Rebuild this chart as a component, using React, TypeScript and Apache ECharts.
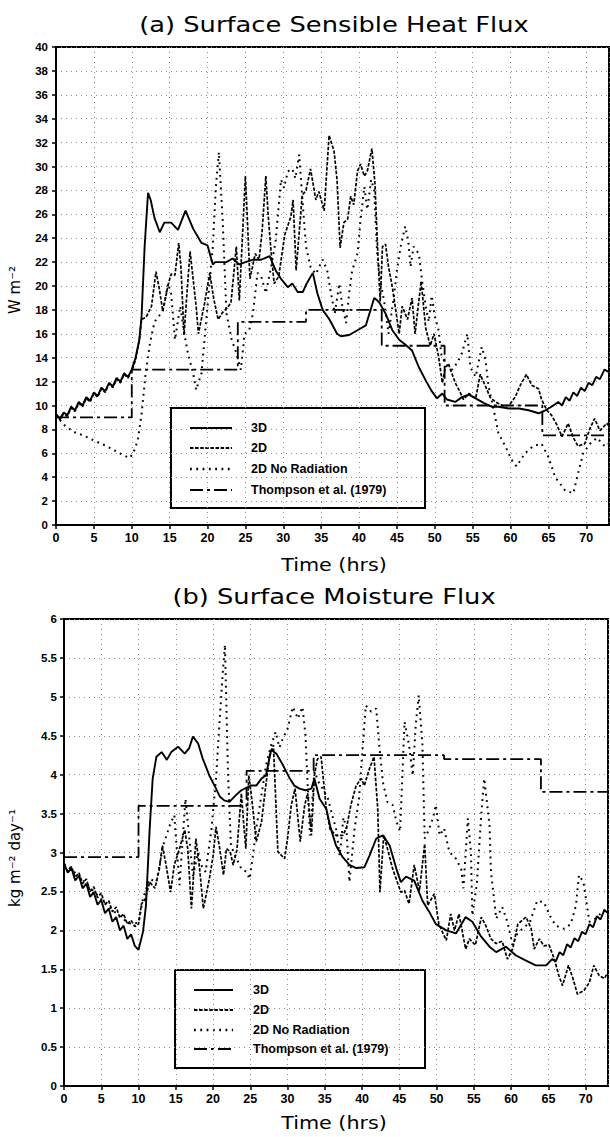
import React, { useEffect, useRef } from "react";
import * as echarts from "echarts";

// ---------- (a) Surface Sensible Heat Flux (W m^-2) ----------
const heat3D: number[][] = [
  [0, 9.3], [0.5, 8.9], [1, 9.4], [1.5, 9.2], [2, 9.9], [2.5, 9.6], [3, 10.3], [3.5, 10.0], [4, 10.7], [4.5, 10.4],
  [5, 11.1], [5.5, 10.8], [6, 11.5], [6.5, 11.2], [7, 11.9], [7.5, 11.6], [8, 12.3], [8.5, 12.0], [9, 12.7], [9.5, 12.4],
  [10, 13.0], [10.5, 14.0], [11, 15.5], [11.3, 17.5], [11.7, 23.3], [12.15, 27.8], [12.5, 27.2], [13, 25.7], [13.7, 24.5],
  [14.3, 25.3], [15.2, 25.3], [16.1, 24.7], [17.1, 26.3], [18.1, 24.8], [19.2, 23.6], [20, 23.4], [20.7, 21.8], [21, 22.0],
  [22.5, 22.0], [23.3, 22.3], [24.2, 21.8], [25, 22.0], [26, 22.2], [27.1, 22.2], [28.2, 22.5], [29, 21.3], [29.7, 20.6],
  [30.6, 19.9], [31.2, 20.2], [31.9, 19.5], [32.6, 19.5], [33, 20.1], [33.9, 21.1], [34.5, 19.4], [35.2, 18.0], [36.1, 17.2],
  [37.1, 16.0], [37.6, 15.8], [38.7, 15.9], [39.8, 16.3], [40.9, 16.7], [42.0, 19.0], [42.4, 18.8], [42.7, 18.6], [43.5, 17.7],
  [44.4, 16.3], [45.3, 15.5], [46.1, 15.1], [47.0, 14.6], [47.9, 13.2], [48.8, 12.1], [49.6, 11.2], [50.3, 10.6], [51.0, 11.0],
  [51.6, 10.5], [52.7, 10.3], [53.6, 10.7], [54.5, 10.9], [55.4, 10.6], [56.5, 10.2], [57.5, 9.9], [58.4, 9.9], [59.8, 9.75],
  [61.1, 9.75], [62.4, 9.6], [63.7, 9.35], [64.6, 9.6], [65.4, 9.9], [66.3, 10.3], [66.8, 10.0], [67.3, 10.7], [67.8, 10.4],
  [68.3, 11.1], [68.8, 10.8], [69.3, 11.5], [69.8, 11.2], [70.3, 11.9], [70.8, 11.7], [71.3, 12.4], [71.8, 12.2], [72.4, 13.0],
  [73, 12.8],
];

const heat2D: number[][] = [
  [0, 9.2], [0.5, 8.8], [1, 9.3], [1.5, 9.1], [2, 9.8], [2.5, 9.5], [3, 10.2], [3.5, 9.9], [4, 10.6], [4.5, 10.3],
  [5, 11.0], [5.5, 10.7], [6, 11.4], [6.5, 11.1], [7, 11.8], [7.5, 11.5], [8, 12.2], [8.5, 11.9], [9, 12.6], [9.5, 12.3],
  [10, 12.9], [10.5, 13.8], [11, 15.5], [11.3, 17.2], [11.9, 17.4], [12.6, 18.3], [13.2, 21.2], [13.6, 19.9], [14.1, 17.9],
  [14.8, 20.1], [15.2, 21.0], [15.7, 20.9], [16.2, 23.6], [16.5, 21.5], [16.9, 15.9], [17.3, 19.5], [17.7, 22.9], [18.5, 18.3],
  [18.8, 16.0], [19.6, 18.5], [20.3, 21.1], [20.8, 19.0], [21.4, 17.2], [22.0, 17.8], [22.5, 18.1], [23.1, 18.6], [23.8, 23.3],
  [24.2, 18.8], [24.6, 24.0], [25.0, 29.2], [25.3, 25.0], [25.6, 20.6], [26.3, 22.7], [26.8, 22.2], [27.2, 24.5], [27.7, 29.2],
  [28.0, 26.0], [28.4, 22.8], [28.8, 20.2], [29.4, 20.8], [30.2, 24.3], [31.0, 25.8], [31.3, 27.2], [31.7, 21.3], [32.5, 27.6],
  [33.0, 28.0], [33.6, 29.8], [34.3, 27.2], [34.7, 27.9], [35.4, 26.3], [36.05, 32.6], [36.7, 31.3], [37.1, 28.9], [37.5, 23.2],
  [38.0, 25.3], [38.5, 25.6], [38.9, 27.5], [39.3, 26.8], [39.8, 29.6], [40.2, 30.2], [40.7, 29.2], [41.1, 29.6], [41.7, 31.5],
  [42.1, 28.6], [42.5, 22.5], [42.8, 18.7], [43.1, 23.3], [43.5, 23.5], [43.9, 21.6], [44.4, 19.9], [45.3, 16.0], [45.7, 18.3],
  [46.4, 17.2], [47.0, 19.0], [47.4, 16.0], [48.2, 20.4], [48.8, 16.5], [49.4, 15.0], [49.9, 16.0], [50.5, 14.1], [51.0, 11.9],
  [51.4, 13.2], [51.8, 13.5], [52.7, 11.9], [53.2, 11.3], [53.8, 10.5], [54.5, 11.0], [55.4, 10.6], [56.0, 12.6], [56.7, 11.6],
  [57.3, 10.7], [58.0, 10.3], [58.9, 10.0], [59.8, 10.0], [60.6, 10.7], [61.3, 11.7], [62.1, 12.6], [62.8, 11.7], [63.7, 11.4],
  [64.1, 10.5], [64.8, 9.6], [65.4, 9.2], [66.1, 8.4], [66.8, 7.4], [67.6, 8.5], [68.3, 7.3], [68.9, 6.6], [69.8, 6.8],
  [70.5, 8.1], [71.1, 8.9], [71.8, 7.9], [72.7, 8.5], [73, 8.3],
];

const heatNoRad: number[][] = [
  [0, 9.2], [1.0, 8.4], [2.3, 7.8], [3.6, 7.5], [4.9, 7.1], [6.7, 6.6], [8.4, 6.0], [9.7, 5.6], [10.2, 6.0], [10.8, 7.1],
  [11.3, 9.3], [11.8, 12.5], [12.4, 15.2], [13.0, 17.0], [13.5, 17.4], [14.1, 17.9], [14.8, 20.2], [15.2, 19.4], [15.7, 15.5],
  [16.4, 18.3], [17.0, 15.8], [17.4, 14.4], [18.1, 12.7], [18.5, 11.3], [19.2, 12.7], [20.0, 18.3], [20.7, 23.3], [21.1, 28.3],
  [21.5, 31.2], [22.0, 25.5], [22.5, 17.7], [23.2, 15.5], [23.8, 14.4], [24.4, 13.0], [24.9, 16.0], [25.5, 16.3], [26.0, 17.7],
  [26.6, 21.1], [27.1, 20.8], [27.7, 19.4], [28.4, 21.6], [29.0, 23.8], [29.7, 28.9], [30.1, 28.2], [30.6, 29.6], [31.2, 29.8],
  [31.6, 29.0], [32.1, 31.0], [32.5, 27.5], [33.0, 23.3], [33.6, 21.6], [34.3, 21.0], [35.2, 22.2], [35.8, 21.3], [36.3, 19.4],
  [36.8, 17.7], [37.4, 20.2], [37.8, 18.3], [38.3, 16.9], [38.7, 19.4], [39.1, 21.3], [39.8, 22.7], [40.2, 25.5], [40.7, 28.3],
  [41.1, 26.4], [41.6, 28.9], [42.0, 28.0], [42.4, 22.7], [42.8, 20.5], [43.3, 18.8], [43.9, 16.0], [44.6, 19.1], [45.0, 21.3],
  [45.5, 23.3], [46.1, 25.0], [46.5, 23.8], [46.8, 21.6], [47.2, 23.3], [47.9, 22.7], [48.3, 20.6], [48.8, 18.3], [49.2, 17.0],
  [49.6, 19.2], [50.0, 17.5], [50.5, 16.3], [50.9, 14.1], [51.6, 13.4], [52.3, 13.0], [53.0, 13.6], [53.6, 14.4], [54.3, 16.0],
  [54.7, 13.2], [55.4, 12.4], [56.2, 14.9], [56.7, 13.8], [57.1, 11.6], [57.8, 9.6], [58.4, 7.7], [59.3, 6.6], [60.2, 5.4],
  [60.8, 4.9], [61.9, 6.0], [63.0, 6.6], [64.1, 6.8], [65.0, 5.7], [65.9, 4.0], [67.2, 2.9], [68.3, 2.65], [68.9, 4.3],
  [69.6, 6.0], [70.5, 6.8], [71.4, 7.3], [72.5, 6.55], [73, 6.8],
];

const heatThompson: number[][] = [
  [0, 9], [10, 9], [10, 13], [24, 13], [24, 17], [33, 17], [33, 18], [43, 18], [43, 15], [51.3, 15],
  [51.3, 10], [64.2, 10], [64.2, 7.5], [73, 7.5],
];

// ---------- (b) Surface Moisture Flux (kg m^-2 day^-1) ----------
const moist3D: number[][] = [
  [0, 2.86], [0.5, 2.74], [1, 2.80], [1.5, 2.64], [2, 2.70], [2.5, 2.54], [3, 2.60], [3.5, 2.43], [4, 2.49], [4.5, 2.33],
  [5, 2.39], [5.5, 2.22], [6, 2.28], [6.5, 2.11], [7, 2.17], [7.5, 2.00], [8, 2.06], [8.5, 1.89], [9, 1.95], [9.5, 1.80],
  [10, 1.75], [10.6, 1.98], [11.0, 2.32], [11.5, 3.31], [11.9, 3.95], [12.4, 4.23], [13.1, 4.29], [13.8, 4.19], [14.4, 4.29],
  [15.3, 4.36], [16.2, 4.27], [16.8, 4.34], [17.3, 4.49], [18.0, 4.40], [18.6, 4.21], [19.5, 3.99], [20.2, 3.86], [20.9, 3.72],
  [21.5, 3.67], [22.2, 3.65], [23.1, 3.74], [23.8, 3.80], [25.1, 3.86], [25.8, 3.86], [26.5, 3.95], [27.1, 3.99], [27.8, 4.32],
  [28.5, 4.27], [29.4, 4.12], [30.3, 3.95], [30.9, 3.86], [31.6, 3.82], [32.4, 3.80], [33.2, 3.82], [33.6, 3.95], [34.3, 3.69],
  [35.2, 3.56], [35.8, 3.31], [36.5, 3.09], [37.4, 2.94], [38.3, 2.84], [39.2, 2.80], [40.3, 2.81], [41.0, 2.96], [41.9, 3.18],
  [42.8, 3.22], [43.7, 3.09], [44.6, 2.79], [45.2, 2.62], [45.9, 2.69], [47.0, 2.64], [48.1, 2.38], [49.0, 2.24], [49.9, 2.08],
  [51.3, 2.0], [52.6, 1.96], [53.9, 2.17], [54.8, 2.11], [55.9, 1.93], [57.1, 1.79], [58.0, 1.72], [59.3, 1.79], [60.6, 1.68],
  [62.0, 1.61], [63.3, 1.55], [64.7, 1.55], [65.5, 1.63], [66.0, 1.60], [66.5, 1.72], [67.0, 1.68], [67.5, 1.82], [68.0, 1.78],
  [68.5, 1.90], [69.0, 1.86], [69.5, 1.98], [70.0, 1.95], [70.5, 2.08], [71.0, 2.04], [71.5, 2.18], [72.0, 2.14], [72.5, 2.26],
  [73, 2.22],
];

const moist2D: number[][] = [
  [0, 2.84], [0.5, 2.76], [1, 2.82], [1.5, 2.68], [2, 2.74], [2.5, 2.60], [3, 2.66], [3.5, 2.50], [4, 2.56], [4.5, 2.42],
  [5, 2.48], [5.5, 2.33], [6, 2.38], [6.5, 2.24], [7, 2.30], [7.5, 2.16], [8, 2.21], [8.5, 2.08], [9, 2.13], [9.5, 2.05],
  [10, 2.08], [10.4, 2.34], [10.9, 2.40], [11.5, 2.62], [12.2, 2.54], [12.8, 2.79], [13.2, 3.09], [13.7, 2.84], [14.3, 2.49],
  [14.8, 2.84], [15.5, 3.05], [16.2, 3.29], [16.6, 3.05], [17.1, 2.28], [17.7, 3.18], [18.2, 2.79], [18.7, 2.28], [19.5, 2.66],
  [20.0, 2.95], [20.4, 3.33], [20.9, 3.05], [21.4, 2.71], [21.8, 3.05], [22.3, 3.01], [22.7, 2.84], [23.2, 3.03], [23.8, 3.76],
  [24.1, 3.39], [24.4, 3.05], [24.8, 3.99], [25.2, 3.69], [25.8, 3.14], [26.5, 3.39], [27.0, 3.80], [27.6, 4.25], [28.1, 4.38],
  [28.4, 3.70], [28.7, 3.01], [29.6, 2.92], [30.0, 3.18], [30.5, 3.61], [31.0, 3.82], [31.7, 3.14], [32.3, 3.61], [32.7, 3.76],
  [33.2, 3.22], [33.6, 3.99], [34.0, 4.20], [34.5, 4.23], [35.2, 3.56], [35.7, 3.30], [36.5, 3.22], [37.4, 3.22], [37.9, 3.31],
  [38.5, 3.61], [39.2, 3.86], [39.9, 3.95], [40.3, 3.86], [41.0, 4.08], [41.6, 4.23], [42.1, 3.56], [42.4, 2.49], [42.9, 3.22],
  [43.4, 3.05], [44.1, 2.79], [45.2, 2.49], [45.7, 2.51], [46.3, 2.34], [47.0, 2.84], [47.7, 2.51], [48.4, 3.11], [48.8, 2.32],
  [49.7, 2.47], [50.3, 2.08], [51.3, 1.87], [51.9, 2.21], [52.4, 2.0], [53.0, 2.21], [53.9, 1.76], [54.4, 1.89], [55.2, 1.81],
  [56.0, 2.17], [56.6, 2.06], [57.3, 1.89], [58.0, 1.83], [58.8, 1.86], [59.5, 1.63], [60.2, 1.76], [60.9, 2.08], [62.0, 2.17],
  [62.7, 2.02], [63.1, 1.76], [63.8, 1.89], [64.4, 1.80], [65.1, 1.81], [65.8, 1.63], [66.4, 1.42], [66.9, 1.29], [67.7, 1.55],
  [68.3, 1.38], [68.9, 1.18], [69.8, 1.23], [70.5, 1.33], [71.1, 1.55], [71.8, 1.42], [72.5, 1.38], [73, 1.46],
];

const moistNoRad: number[][] = [
  [0, 2.85], [1, 2.78], [2, 2.70], [3, 2.60], [4, 2.50], [5, 2.40], [6, 2.30], [7, 2.22], [8, 2.14], [9, 2.08], [10, 2.10],
  [10.6, 2.41], [11.5, 2.66], [12.4, 2.62], [13.3, 3.09], [14.2, 3.35], [14.8, 3.48], [15.5, 2.58], [16.3, 3.69], [16.8, 3.20],
  [17.3, 2.70], [18.0, 3.00], [18.4, 2.84], [19.0, 2.75], [19.8, 3.31], [20.4, 3.95], [20.9, 4.72], [21.3, 5.30], [21.6, 5.67],
  [22.0, 4.04], [22.4, 3.09], [23.0, 2.95], [23.8, 2.79], [24.5, 2.75], [24.9, 2.66], [25.3, 2.92], [25.8, 3.31], [26.5, 3.74],
  [27.1, 4.12], [27.8, 4.38], [28.4, 4.55], [28.9, 4.35], [29.4, 4.47], [30.0, 4.59], [30.7, 4.87], [31.4, 4.72], [32.0, 4.87],
  [32.4, 4.51], [33.0, 3.22], [33.6, 4.04], [34.2, 3.90], [34.7, 3.82], [35.4, 3.70], [36.1, 3.44], [36.5, 3.31], [37.0, 2.96],
  [37.5, 3.45], [37.9, 3.31], [38.3, 2.62], [39.0, 3.31], [39.6, 3.70], [40.1, 4.38], [40.5, 4.89], [41.2, 4.81], [41.9, 4.85],
  [42.3, 4.38], [42.8, 3.90], [43.4, 3.65], [44.1, 3.61], [44.6, 3.40], [45.1, 3.27], [45.7, 4.68], [46.3, 4.38], [46.8, 3.99],
  [47.2, 4.64], [47.6, 5.02], [48.1, 4.38], [48.4, 3.18], [49.0, 3.30], [49.5, 3.44], [49.9, 3.61], [50.4, 3.22], [51.0, 3.31],
  [51.7, 3.01], [52.6, 2.92], [53.3, 2.79], [53.6, 2.54], [54.2, 3.44], [54.6, 3.01], [54.8, 2.19], [55.4, 2.60], [56.0, 3.50],
  [56.4, 3.95], [57.1, 3.35], [57.3, 2.75], [58.0, 2.15], [58.8, 2.30], [59.5, 2.11], [60.2, 1.81], [60.8, 1.95], [61.5, 2.02],
  [62.5, 2.10], [63.5, 2.38], [64.4, 2.36], [65.3, 2.17], [66.0, 2.06], [67.1, 2.02], [68.0, 2.08], [68.7, 2.32], [69.1, 2.71],
  [69.7, 2.62], [70.5, 2.11], [71.3, 2.15], [72.5, 2.26], [73, 2.20],
];

const moistThompson: number[][] = [
  [0, 2.94], [10, 2.94], [10, 3.6], [24.5, 3.6], [24.5, 4.05], [33.5, 4.05], [33.5, 4.25], [51, 4.25], [51, 4.2], [64, 4.2],
  [64, 3.78], [73, 3.78],
];

const seriesNames = ["3D", "2D", "2D No Radiation", "Thompson et al. (1979)"];
const titles = ["(a) Surface Sensible Heat Flux", "(b) Surface Moisture Flux"];
const xAxisTitle = "Time (hrs)";
const yAxisTitles = ["W m\u207B\u00B2", "kg m\u207B\u00B2 day\u207B\u00B9"];

const DASHES: (number[] | "solid")[] = ["solid", [3.5, 1.6], [1.8, 4.5], [13, 4, 3, 4]];
const WIDTHS = [1.9, 1.7, 2.0, 1.8];

function lineSeries(name: string, data: number[][], idx: number, styleIdx: number) {
  return {
    type: "line",
    name,
    xAxisIndex: idx,
    yAxisIndex: idx,
    data,
    showSymbol: false,
    symbol: "none",
    clip: true,
    z: 4 - styleIdx,
    lineStyle: { color: "#000", width: WIDTHS[styleIdx], type: DASHES[styleIdx] },
  };
}

function legendGraphic(x0: number, y0: number, w: number, h: number, rowYs: number[], sx1: number, sx2: number, tx: number) {
  const children: any[] = [
    {
      type: "rect",
      shape: { x: x0, y: y0, width: w, height: h },
      style: { fill: "#fff", stroke: "#000", lineWidth: 2 },
    },
  ];
  rowYs.forEach((ry, i) => {
    const st: any = { stroke: "#000", lineWidth: WIDTHS[i] + 0.3 };
    if (DASHES[i] !== "solid") st.lineDash = DASHES[i];
    children.push({ type: "line", shape: { x1: sx1, y1: ry, x2: sx2, y2: ry }, style: st });
    children.push({
      type: "text",
      x: tx,
      y: ry,
      style: {
        text: seriesNames[i],
        fill: "#000",
        font: "bold 12.5px 'Liberation Sans', Arial, sans-serif",
        textVerticalAlign: "middle",
        textAlign: "left",
      },
    });
  });
  return { type: "group", z: 100, children };
}

function centeredText(text: string, x: number, y: number, size: number, scaleX: number) {
  return {
    type: "text",
    x,
    y,
    scaleX,
    z: 100,
    style: {
      text,
      fill: "#000",
      font: `${size}px 'DejaVu Sans', sans-serif`,
      textAlign: "center",
      textVerticalAlign: "middle",
    },
  };
}

export default function App() {
  const ref = useRef<HTMLDivElement>(null);
  useEffect(() => {
    if (!ref.current) return;
    const chart = echarts.init(ref.current, undefined, { renderer: "svg" });
    const axisLabel = {
      color: "#000",
      fontWeight: "bold" as const,
      fontFamily: "'Liberation Sans', Arial, sans-serif",
      fontSize: 11.5,
    };
    const split = { show: true, lineStyle: { color: "#8a8a8a", width: 1, type: [1, 4] } };
    const axisLine = { show: true, onZero: false, lineStyle: { color: "#000", width: 2 } };
    const tick = { show: true, length: 4, lineStyle: { color: "#000", width: 1.5 } };

    const option: any = {
      animation: false,
      backgroundColor: "#fff",
      grid: [
        { left: 56, top: 47, width: 553, height: 478, show: true, borderColor: "#000", borderWidth: 2, backgroundColor: "transparent" },
        { left: 64, top: 619, width: 544, height: 467, show: true, borderColor: "#000", borderWidth: 2, backgroundColor: "transparent" },
      ],
      xAxis: [0, 1].map((i) => ({
        type: "value",
        gridIndex: i,
        min: 0,
        max: 73,
        interval: 5,
        axisLine,
        axisTick: tick,
        axisLabel: { ...axisLabel, fontSize: 12.5, margin: 6, showMaxLabel: false },
        splitLine: split,
      })),
      yAxis: [
        {
          type: "value", gridIndex: 0, min: 0, max: 40, interval: 2,
          axisLine, axisTick: tick, axisLabel: { ...axisLabel, margin: 8 }, splitLine: split,
        },
        {
          type: "value", gridIndex: 1, min: 0, max: 6, interval: 0.5,
          axisLine, axisTick: tick, axisLabel: { ...axisLabel, margin: 7 }, splitLine: split,
        },
      ],
      series: [
        lineSeries(seriesNames[3], heatThompson, 0, 3),
        lineSeries(seriesNames[2], heatNoRad, 0, 2),
        lineSeries(seriesNames[1], heat2D, 0, 1),
        lineSeries(seriesNames[0], heat3D, 0, 0),
        lineSeries(seriesNames[3], moistThompson, 1, 3),
        lineSeries(seriesNames[2], moistNoRad, 1, 2),
        lineSeries(seriesNames[1], moist2D, 1, 1),
        lineSeries(seriesNames[0], moist3D, 1, 0),
      ],
      graphic: [
        centeredText(titles[0], 334, 25, 22, 1.17),
        centeredText(xAxisTitle, 334, 565, 18, 1.15),
        centeredText(titles[1], 334, 597, 22, 1.17),
        centeredText(xAxisTitle, 334, 1123, 18, 1.15),
        {
          type: "text", x: 15, y: 290, rotation: Math.PI / 2, z: 100,
          style: { text: yAxisTitles[0], fill: "#000", font: "15px 'DejaVu Sans', sans-serif", textAlign: "center", textVerticalAlign: "middle" },
        },
        {
          type: "text", x: 15, y: 858, rotation: Math.PI / 2, z: 100,
          style: { text: yAxisTitles[1], fill: "#000", font: "15px 'DejaVu Sans', sans-serif", textAlign: "center", textVerticalAlign: "middle" },
        },
        legendGraphic(171, 408, 254, 100, [428, 448, 469, 490], 190, 232, 251),
        legendGraphic(175, 970, 250, 98, [990, 1010, 1030, 1049], 194, 233, 253),
      ],
    };
    chart.setOption(option);
    return () => chart.dispose();
  }, []);
  return (
    <div
      ref={ref}
      style={{ position: "absolute", left: 0, top: 0, width: 610, height: 1137, background: "#fff" }}
    />
  );
}
